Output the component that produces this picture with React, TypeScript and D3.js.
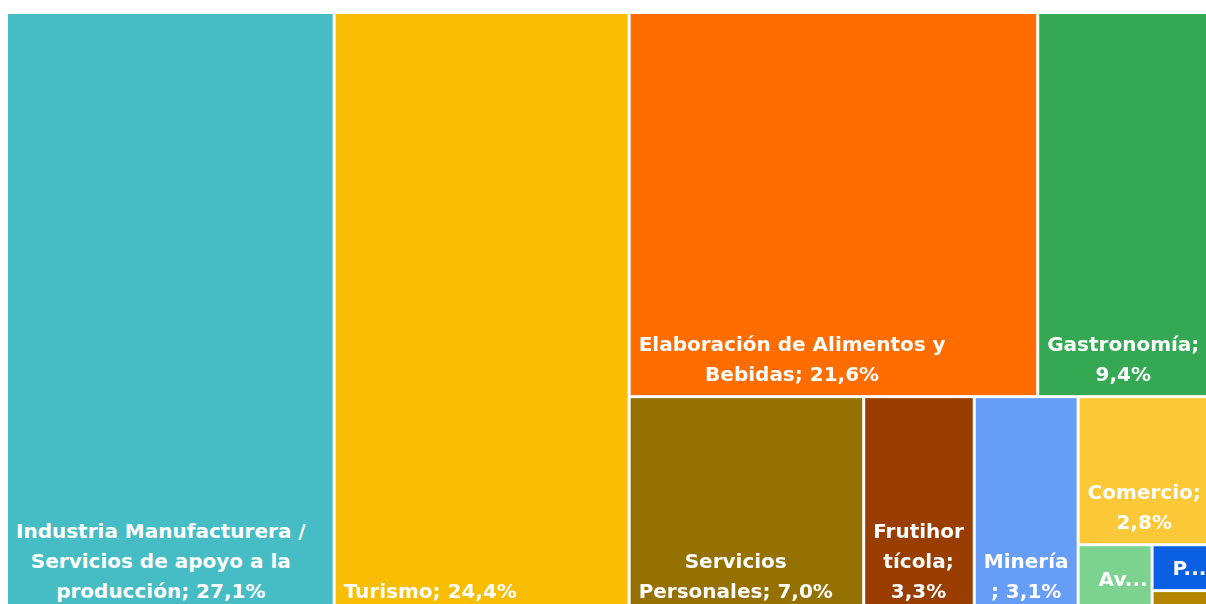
import React from "react";
import * as d3 from "d3";

// ---- data ----
const categories = [
  "Industria Manufacturera / Servicios de apoyo a la producción",
  "Turismo",
  "Elaboración de Alimentos y Bebidas",
  "Gastronomía",
  "Servicios Personales",
  "Frutihortícola",
  "Minería",
  "Comercio",
  "Avícola",
  "Pesca",
  "Otros",
];
const values = [27.1, 24.4, 21.6, 9.4, 7.0, 3.3, 3.1, 2.8, 0.7, 0.4, 0.2];
const colors = [
  "#46BCC4",
  "#F9BE02",
  "#FF6D00",
  "#34A853",
  "#947100",
  "#993D00",
  "#669DF6",
  "#FBC837",
  "#7BD38F",
  "#0B5FE3",
  "#B48600",
];

// layout grouping (indices into the arrays above)
type Node = { tile?: "dice" | "slice"; children?: (Node | number)[] };
const structure: Node = {
  tile: "dice",
  children: [
    0,
    1,
    {
      tile: "slice",
      children: [
        { tile: "dice", children: [2, 3] },
        {
          tile: "dice",
          children: [
            4,
            5,
            6,
            { tile: "slice", children: [7, { tile: "dice", children: [8, { tile: "slice", children: [9, 10] }] }] },
          ],
        },
      ],
    },
  ],
};

const W = 1206;
const TOP = 6;
const H = 598;
const FONT = "'DejaVu Sans', Verdana, sans-serif";
const FS = 20;
const LH = 30;
const PADX = 8;
const BOTTOM = 14;

function build(n: Node | number): any {
  if (typeof n === "number") return { idx: n, value: values[n] };
  return { tile: n.tile, children: n.children!.map(build) };
}

const fmt = (v: number) => v.toFixed(1).replace(".", ",") + "%";

let ctx: CanvasRenderingContext2D | null = null;
function measure(t: string) {
  if (!ctx) {
    const c = document.createElement("canvas");
    ctx = c.getContext("2d");
  }
  ctx!.font = `700 ${FS}px ${FONT}`;
  return ctx!.measureText(t).width;
}

function wrap(text: string, maxW: number): string[] {
  const words = text.split(" ");
  const lines: string[] = [];
  let cur = "";
  const pushWord = (w: string) => {
    let rest = w;
    while (measure(rest) > maxW && rest.length > 1) {
      let k = rest.length - 1;
      while (k > 1 && measure(rest.slice(0, k)) > maxW) k--;
      lines.push(rest.slice(0, k));
      rest = rest.slice(k);
    }
    return rest;
  };
  for (const w of words) {
    const cand = cur ? cur + " " + w : w;
    if (measure(cand) <= maxW) {
      cur = cand;
    } else {
      if (cur) lines.push(cur);
      cur = measure(w) > maxW ? pushWord(w) : w;
    }
  }
  if (cur) lines.push(cur);
  return lines;
}

export default function App() {
  const root = d3
    .hierarchy(build(structure))
    .sum((d: any) => (d.children ? 0 : d.value));

  const tile = (node: any, x0: number, y0: number, x1: number, y1: number) => {
    (node.data.tile === "slice" ? d3.treemapSlice : d3.treemapDice)(node, x0, y0, x1, y1);
  };

  d3.treemap<any>().tile(tile as any).size([W, H]).paddingInner(3).round(false)(root as any);
  const leaves = root.leaves() as any[];

  return (
    <div style={{ position: "fixed", left: 8, top: 8, right: 0, bottom: 0, overflow: "hidden" }}>
      <svg width={W} height={TOP + H} style={{ display: "block" }}>
        <g transform={`translate(0,${TOP})`}>
          {leaves.map((l) => {
            const i = l.data.idx as number;
            const w = l.x1 - l.x0;
            const h = l.y1 - l.y0;
            const label = `${categories[i]}; ${fmt(values[i])}`;
            const maxW = w - 2 * PADX;
            let lines = wrap(label, maxW);
            const maxLines = Math.floor((h - 8) / LH);
            let truncated = false;
            if (maxLines < 1) lines = [];
            else if (lines.length > maxLines) {
              truncated = true;
              lines = lines.slice(0, maxLines);
              let last = lines[lines.length - 1];
              while (last.length > 0 && measure(last + "...") > maxW) last = last.slice(0, -1);
              lines[lines.length - 1] = last + "...";
            }
            const blockW = lines.length ? Math.max(...lines.map(measure)) : 0;
            let x: number;
            let anchor: "start" | "middle" = "middle";
            let lastBase: number;
            if (truncated) {
              x = l.x0 + 19;
              anchor = "start";
              lastBase = l.y0 + h / 2 + 7 + ((lines.length - 1) * LH) / 2;
            } else {
              x = l.x0 + PADX + blockW / 2;
              lastBase = l.y1 - BOTTOM;
            }
            const clipId = `clip${i}`;
            return (
              <g key={i}>
                <clipPath id={clipId}>
                  <rect x={l.x0} y={l.y0} width={w} height={h} />
                </clipPath>
                <rect x={l.x0} y={l.y0} width={w} height={h} fill={colors[i]} />
                <g clipPath={`url(#${clipId})`}>
                  {lines.map((ln, k) => (
                    <text
                      key={k}
                      x={x}
                      y={lastBase - (lines.length - 1 - k) * LH}
                      textAnchor={anchor}
                      fill="#fff"
                      fontFamily={FONT}
                      fontWeight={700}
                      fontSize={FS}
                    >
                      {ln}
                    </text>
                  ))}
                </g>
              </g>
            );
          })}
        </g>
      </svg>
    </div>
  );
}
